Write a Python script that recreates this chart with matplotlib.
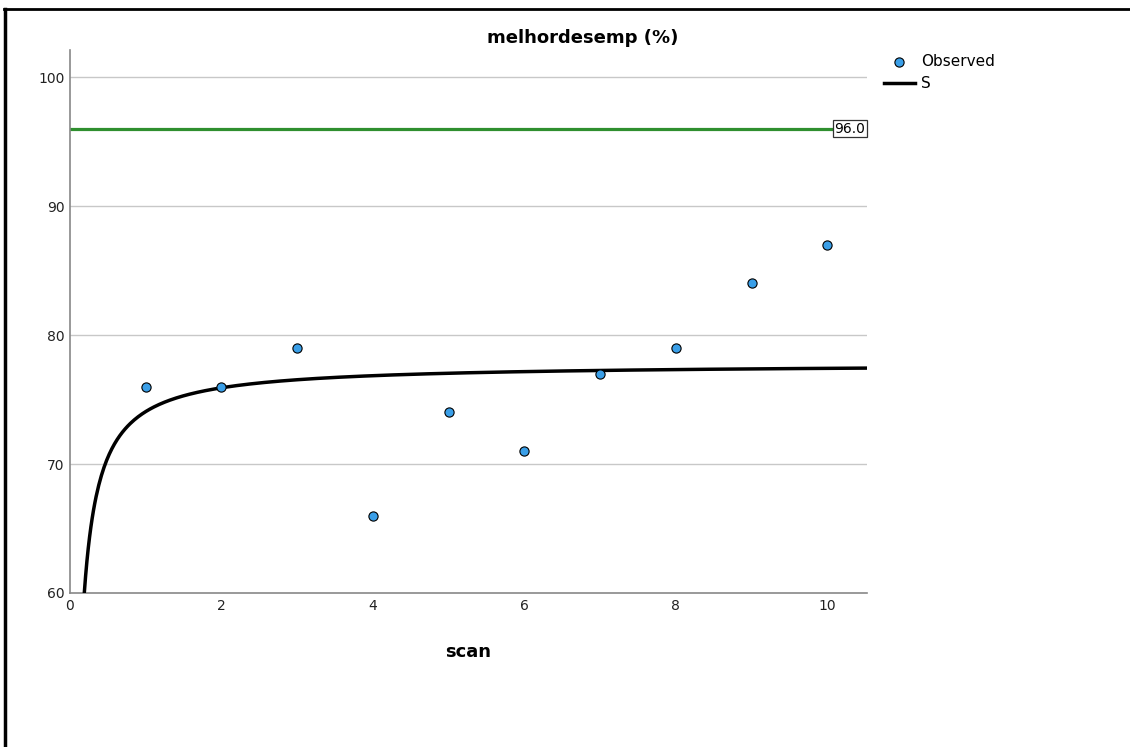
import numpy as np
import matplotlib.pyplot as plt

# dados observados
scan = [1, 2, 3, 4, 5, 6, 7, 8, 9, 10]
melhordesemp = [76, 76, 79, 66, 74, 71, 77, 79, 84, 87]
ref_value = 96.0
y_ticks = [60, 70, 80, 90, 100]
x_ticks = [0, 2, 4, 6, 8, 10]

# ajuste do modelo S: ln(y) = b0 + b1/x
x_arr = np.array(scan, dtype=float)
y_arr = np.array(melhordesemp, dtype=float)
b1, b0 = np.polyfit(1.0 / x_arr, np.log(y_arr), 1)
x_fit = np.linspace(0.12, 10.52, 600)
y_fit = np.exp(b0 + b1 / x_fit)

fig = plt.figure(figsize=(11.3, 7.47), dpi=100)
ax = fig.add_axes([0.0619, 0.2062, 0.7051, 0.7268])

# grade horizontal
for yv in y_ticks[1:]:
    ax.axhline(yv, color='#c8c8c8', lw=1.0, zorder=0)

# linha de referência
ax.axhline(ref_value, color='#2f8f2f', lw=2.3, zorder=1)
ax.text(10.5, ref_value, '%.1f' % ref_value, ha='right', va='center', fontsize=10,
        bbox=dict(boxstyle='square,pad=0.12', fc='white', ec='#333333', lw=0.9), zorder=5)

ax.plot(x_fit, y_fit, color='black', lw=2.5, zorder=3, label='S')
ax.scatter(scan, melhordesemp, s=44, color='#3a9fe8', edgecolor='black', linewidth=0.8,
           zorder=4, label='Observed')

ax.set_xlim(0, 10.52)
ax.set_ylim(60, 102.1)
ax.set_xticks(x_ticks)
ax.set_yticks(y_ticks)
ax.tick_params(length=0, labelsize=10, colors='#222222', pad=4)
for s in ['top', 'right']:
    ax.spines[s].set_visible(False)
for s in ['left', 'bottom']:
    ax.spines[s].set_color('#888888')
    ax.spines[s].set_linewidth(1.2)

fig.text(583 / 1130, 1 - 38 / 747, 'melhordesemp (%)', ha='center', va='center',
         fontsize=13, fontweight='bold')
ax.set_xlabel('scan', fontsize=13, fontweight='bold', labelpad=22)

h, l = ax.get_legend_handles_labels()
fig.legend(h[::-1], l[::-1], loc='upper left', bbox_to_anchor=(884 / 1130, 1 - 54 / 747),
           frameon=False, fontsize=11, handlelength=2.0, handletextpad=0.4,
           labelspacing=0.45, borderaxespad=0, borderpad=0)

# moldura nas bordas esquerda e superior
fig.add_artist(plt.Line2D([5 / 1130, 5 / 1130], [0, 1 - 9 / 747], color='black', lw=2.5))
fig.add_artist(plt.Line2D([4 / 1130, 1], [1 - 9 / 747, 1 - 9 / 747], color='black', lw=2.0))

fig.savefig('out.png', dpi=100)
